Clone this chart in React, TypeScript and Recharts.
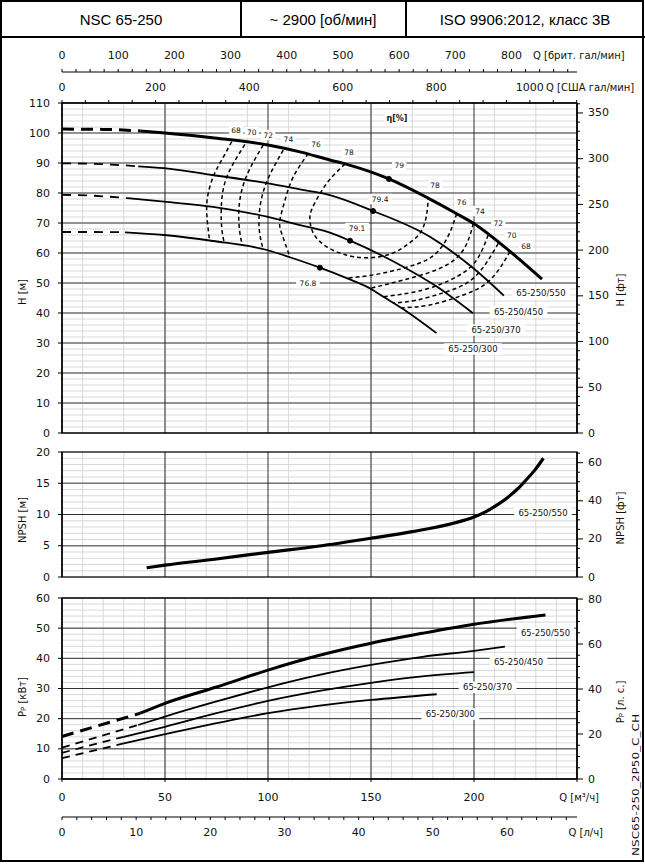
import React from 'react'
import { ComposedChart, Line, XAxis, YAxis, CartesianGrid, ReferenceDot } from 'recharts'

type P = [number, number]

// Q [м³/ч] -> H [м]
const h550Dash: P[] = [[0, 101.3], [20, 101.2], [38, 100.7]]
const h550: P[] = [[38, 100.7], [50, 100], [73, 98.4], [100, 96], [115.5, 93.7], [130, 91], [137.4, 89.7], [158.7, 84.7], [177.7, 78.3], [191.6, 73.1], [199.7, 69.9], [217.5, 60.5], [233, 51.3]]
const h450Dash: P[] = [[0, 89.9], [20, 89.6], [37, 88.9]]
const h450: P[] = [[37, 88.9], [49.5, 88.3], [73, 86], [99.5, 83.3], [115.5, 81.2], [130, 79.3], [151, 74], [178.6, 65.4], [199.7, 54.9], [214.5, 45.8]]
const h370Dash: P[] = [[0, 79.4], [15, 79.1], [31.5, 78.3]]
const h370: P[] = [[31.5, 78.3], [49.5, 77.1], [73.3, 75.4], [99.5, 72.1], [115.5, 69.3], [130, 66.8], [139.8, 64.1], [162.5, 56.6], [181.9, 48.8], [199.5, 39.9]]
const h300Dash: P[] = [[0, 67], [15, 67], [30.6, 66.9]]
const h300: P[] = [[30.6, 66.9], [49.5, 66], [73.3, 64], [99.5, 61], [111, 58.5], [125.2, 55.1], [138.2, 51.6], [149.5, 48.2], [156, 45.4], [165, 41.6], [181.8, 33.3]]

// iso-efficiency lines
const eff68L: P[] = [[82.4, 97.1], [77.5, 91], [73.4, 85.4], [70.5, 78], [70.5, 71], [71.5, 64.9]]
const eff70L: P[] = [[88.8, 96.2], [82.5, 89], [78.5, 82], [77.3, 74.5], [77.6, 68], [78.8, 63.2]]
const eff72L: P[] = [[97.7, 96], [91.5, 88.5], [87.3, 81], [85.8, 73.5], [86.3, 67], [87.5, 62.7]]
const eff74L: P[] = [[107.4, 94.3], [100.5, 85.5], [96.8, 78], [95.6, 71], [96.2, 65.5], [97.6, 61.4]]
const eff76L: P[] = [[119.6, 93.2], [112.3, 85.4], [108.3, 77.7], [105.8, 71], [106.6, 66.6], [110.7, 58.6]]
const eff78: P[] = [[137.4, 89.7], [130, 84.5], [125.2, 79.7], [121.2, 74.5], [120.4, 70.4], [122.5, 66], [128, 62.3], [136.5, 59.6], [148, 58.4], [160, 59.8], [168, 63], [173.8, 66.6], [176.8, 72], [177.8, 78.2]]
const eff76R: P[] = [[191.6, 73.1], [187, 65], [179, 58.5], [166, 55], [152, 52.8], [138.2, 51.6]]
const eff74R: P[] = [[199.7, 69.9], [194.8, 61], [183.5, 54.9], [165.7, 51], [149.5, 48.2]]
const eff72R: P[] = [[206.9, 66], [201.3, 57.7], [191.6, 52.1], [175.4, 47.7], [156, 45.4]]
const eff70R: P[] = [[211.8, 63.2], [200.5, 52.1], [186.7, 47.1], [172.2, 44.3], [160.8, 43.3]]
const eff68R: P[] = [[217.5, 60.5], [207.8, 51], [194.8, 46], [178.6, 42.7], [164.9, 41.7]]
const effContours = [eff68L, eff70L, eff72L, eff74L, eff76L, eff78, eff76R, eff74R, eff72R, eff70R, eff68R]

const bepPoints: P[] = [[158.7, 84.7], [151, 74], [139.8, 64.1], [125.2, 55.1]]
const effTexts = ['68', '70', '72', '74', '76', '78', '79', '78', '76', '74', '72', '70', '68', '79.4', '79.1', '76.8']
const effAnchors: P[] = [[84.5, 101], [92.1, 100.2], [100.1, 99.3], [109.9, 97.9], [123.3, 96.3], [139.3, 93.6], [163.7, 89.3], [181.1, 82.4], [194, 76.9], [202.9, 74], [211.8, 69.9], [218.3, 66], [225.2, 62.3], [154.4, 78], [143.2, 68.3], [119.4, 50]]

const models = ['65-250/550', '65-250/450', '65-250/370', '65-250/300']
const hNameAnchors: P[] = [[232.5, 46.6], [221.6, 40.4], [210.7, 34.3], [199.5, 28]]

// NPSH [м]
const npsh550: P[] = [[41.1, 1.48], [50, 1.9], [75, 2.88], [100, 3.95], [125, 4.96], [150, 6.2], [170, 7.25], [190, 8.6], [200, 9.6], [206, 10.5], [212, 11.7], [217, 12.9], [221.5, 14.2], [225.5, 15.6], [229.5, 17.1], [233.7, 19]]
const npshNameAnchor: P = [233.5, 10.2]

// Pp [кВт]
const p550Dash: P[] = [[0, 14.1], [38, 21.8]]
const p550: P[] = [[38, 21.8], [50, 25.1], [75, 30.5], [100, 36.1], [125, 41], [150, 45], [175, 48.3], [200, 51.3], [234.7, 54.4]]
const p450Dash: P[] = [[0, 10.4], [37, 17.9]]
const p450: P[] = [[37, 17.9], [50, 20.7], [75, 25.7], [100, 30.4], [125, 34.5], [150, 37.8], [175, 40.5], [200, 42.5], [215, 43.9]]
const p370Dash: P[] = [[0, 8.7], [30, 14]]
const p370: P[] = [[30, 14], [50, 17.3], [75, 21.8], [100, 25.9], [125, 29.2], [150, 31.9], [175, 34], [200, 35.4]]
const p300Dash: P[] = [[0, 6.9], [30, 11.8]]
const p300: P[] = [[30, 11.8], [50, 14.9], [75, 18.5], [100, 21.8], [125, 24.3], [150, 26.2], [181.9, 28.1]]
const pNameAnchors: P[] = [[234.7, 48.5], [221.6, 38.9], [206.6, 30.4], [188.5, 21.5]]

// axis ticks
const qTicks = [0, 50, 100, 150, 200, 250]
const hTicks = [0, 10, 20, 30, 40, 50, 60, 70, 80, 90, 100, 110]
const npshTicks = [0, 5, 10, 15, 20]
const pTicks = [0, 10, 20, 30, 40, 50, 60]

const QMAX = 250
const UK = 3.666
const US = 4.403
const FT = 3.2808
const HP = 1.341
const LS = 1 / 3.6

const range = (a: number, b: number, s: number) => {
  const r: number[] = []
  for (let v = a; v <= b + 1e-9; v += s) r.push(Math.round(v * 1000) / 1000)
  return r
}

const toRows = (a: P[]) => a.map(([q, v]) => ({ q, v }))

const FONT = 'DejaVu Sans, sans-serif'

type Side = 'left' | 'right' | 'top' | 'bottom'
const makeTick = (side: Side, isMajor: (v: number) => boolean, majorLen: number, minorLen: number, gap: number, showLabel: (v: number) => boolean = () => true) =>
  (props: any) => {
    const { x, y, payload } = props
    const v = payload.value
    const major = isMajor(v)
    const len = major ? majorLen : minorLen
    const lab = major && showLabel(v) ? String(v) : null
    const s = { stroke: '#000', strokeWidth: 1 }
    let ln: React.ReactNode = null
    let tx: React.ReactNode = null
    const tp = { fontSize: 11, fontFamily: FONT, fill: '#111' }
    if (side === 'left') {
      ln = len > 0 ? <line x1={x} y1={y} x2={x - len} y2={y} {...s} /> : null
      tx = lab && <text x={x - gap} y={y} textAnchor="end" dominantBaseline="central" {...tp}>{lab}</text>
    } else if (side === 'right') {
      ln = len > 0 ? <line x1={x} y1={y} x2={x + len} y2={y} {...s} /> : null
      tx = lab && <text x={x + gap} y={y} textAnchor="start" dominantBaseline="central" {...tp}>{lab}</text>
    } else if (side === 'top') {
      ln = len > 0 ? <line x1={x} y1={y} x2={x} y2={y - len} {...s} /> : null
      tx = lab && <text x={x} y={y - gap} textAnchor="middle" dominantBaseline="central" {...tp}>{lab}</text>
    } else {
      ln = len > 0 ? <line x1={x} y1={y} x2={x} y2={y + len} {...s} /> : null
      tx = lab && <text x={x} y={y + gap} textAnchor="middle" dominantBaseline="central" {...tp}>{lab}</text>
    }
    return <g>{ln}{tx}</g>
  }

const Tag = (text: string, size: number, bold = false) => (props: any) => {
  const { cx, cy } = props
  if (cx == null || cy == null) return <g />
  const w = text.length * size * 0.62 + 5
  const hgt = size + 3
  return (
    <g>
      <rect x={cx - w / 2} y={cy - hgt / 2} width={w} height={hgt} fill="#fff" />
      <text x={cx} y={cy} textAnchor="middle" dominantBaseline="central" fontSize={size} fontFamily={FONT} fontWeight={bold ? 'bold' : 'normal'} fill="#111">{text}</text>
    </g>
  )
}

const axisNoTick = { tickLine: false, tickSize: 0, tickMargin: 0, interval: 0 as const }

// invisible series so that an axis gets a scale and its ticks
const anchor = (xId: string, yId: string, x1: number, y1: number) => (
  <Line key={'a-' + xId + yId} xAxisId={xId} yAxisId={yId} data={[{ q: 0, v: 0 }, { q: x1, v: y1 }]} dataKey="v"
    stroke="none" dot={false} activeDot={false} isAnimationActive={false} legendType="none" />
)

const lineStyle = (w: number, dash?: string) => ({
  type: 'monotone' as const,
  dataKey: 'v',
  stroke: '#000',
  strokeWidth: w,
  strokeDasharray: dash,
  dot: false,
  activeDot: false,
  isAnimationActive: false,
  xAxisId: 'q',
})

const frame = (h: number) => (p: any) => (
  <rect x={p.cx} y={p.cy - h} width={515} height={h} fill="none" stroke="#000" strokeWidth={1.2} />
)

const qMinor = range(0, 250, 10)

function HeadChart() {
  const hSeries: [P[], P[], number][] = [
    [h550Dash, h550, 3],
    [h450Dash, h450, 1.8],
    [h370Dash, h370, 1.8],
    [h300Dash, h300, 1.8],
  ]
  return (
    <ComposedChart width={645} height={400} margin={{ top: 0, right: 0, bottom: 7, left: 0 }}>
      <XAxis xAxisId="t1_us" orientation="top" type="number" dataKey="q" domain={[0, QMAX * US]} ticks={range(0, 1100, 50)} height={31}
        axisLine={{ stroke: '#000', strokeWidth: 1.2 }} {...axisNoTick}
        tick={makeTick('top', () => true, 3, 3, 16, (v) => v % 200 === 0)} />
      <XAxis xAxisId="t2_uk" orientation="top" type="number" dataKey="q" domain={[0, QMAX * UK]} ticks={range(0, 900, 25)} height={32}
        axisLine={{ stroke: '#000', strokeWidth: 1 }} {...axisNoTick}
        tick={makeTick('top', () => true, 3, 3, 17, (v) => v % 100 === 0 && v <= 800)} />
      <XAxis xAxisId="q" type="number" dataKey="q" domain={[0, QMAX]} ticks={qTicks} hide allowDataOverflow />
      <YAxis yAxisId="h" type="number" domain={[0, 110]} ticks={hTicks} width={62}
        axisLine={{ stroke: '#000', strokeWidth: 1 }} {...axisNoTick}
        tick={makeTick('left', () => true, 4, 4, 12)} />
      <YAxis yAxisId="ft" orientation="right" type="number" domain={[0, 110 * FT]} ticks={range(0, 360, 10)} width={68}
        axisLine={{ stroke: '#000', strokeWidth: 1.2 }} {...axisNoTick}
        tick={makeTick('right', (v) => v % 50 === 0, 6, 3, 11)} />
      {anchor('t1_us', 'h', 1100, 0)}
      {anchor('t2_uk', 'h', 900, 0)}
      {anchor('q', 'ft', 250, 360)}
      <CartesianGrid xAxisId="q" yAxisId="h" verticalValues={qMinor} horizontalValues={range(0, 110, 2)} stroke="#cfcfcf" strokeWidth={0.8} />
      <CartesianGrid xAxisId="q" yAxisId="h" vertical={false} horizontalValues={hTicks} stroke="#767676" strokeWidth={1.5} />
      <CartesianGrid xAxisId="q" yAxisId="h" horizontal={false} verticalValues={qTicks} stroke="#1a1a1a" strokeWidth={0.9} />
      {effContours.map((c, i) => (
        <Line key={'e' + i} {...lineStyle(1.5, '4 3')} type="natural" yAxisId="h" data={toRows(c)} />
      ))}
      {hSeries.map(([d, s, w], i) => [
        <Line key={'hd' + i} {...lineStyle(w, w > 2 ? '12 7' : '9 7')} yAxisId="h" data={toRows(d)} />,
        <Line key={'hs' + i} {...lineStyle(w)} yAxisId="h" data={toRows(s)} />,
      ])}
      {bepPoints.map(([q, h], i) => (
        <ReferenceDot key={'b' + i} xAxisId="q" yAxisId="h" x={q} y={h} r={2.5} fill="#000" stroke="#000" />
      ))}
      {effAnchors.map(([q, h], i) => (
        <ReferenceDot key={'t' + i} xAxisId="q" yAxisId="h" x={q} y={h} r={0} shape={Tag(effTexts[i], 7.5)} />
      ))}
      {hNameAnchors.map(([q, h], i) => (
        <ReferenceDot key={'n' + i} xAxisId="q" yAxisId="h" x={q} y={h} r={0} shape={Tag(models[i], 8.5)} />
      ))}
      <ReferenceDot xAxisId="q" yAxisId="h" x={162.6} y={104.7} r={0} shape={Tag('η[%]', 8, true)} />
      <ReferenceDot xAxisId="q" yAxisId="h" x={0} y={0} r={0} shape={frame(330)} />
    </ComposedChart>
  )
}

function NpshChart() {
  return (
    <ComposedChart width={645} height={145} margin={{ top: 12, right: 0, bottom: 8, left: 0 }}>
      <XAxis xAxisId="q" type="number" dataKey="q" domain={[0, QMAX]} ticks={qTicks} hide />
      <YAxis yAxisId="n" type="number" domain={[0, 20]} ticks={npshTicks} width={62}
        axisLine={{ stroke: '#000', strokeWidth: 1 }} {...axisNoTick}
        tick={makeTick('left', () => true, 4, 4, 12)} />
      <YAxis yAxisId="nft" orientation="right" type="number" domain={[0, 20 * FT]} ticks={range(0, 65, 5)} width={68}
        axisLine={{ stroke: '#000', strokeWidth: 1.2 }} {...axisNoTick}
        tick={makeTick('right', (v) => v % 20 === 0, 6, 3, 11)} />
      {anchor('q', 'nft', 250, 65)}
      <CartesianGrid xAxisId="q" yAxisId="n" verticalValues={qMinor} horizontalValues={range(0, 20, 1)} stroke="#cfcfcf" strokeWidth={0.8} />
      <CartesianGrid xAxisId="q" yAxisId="n" vertical={false} horizontalValues={[5, 15]} stroke="#767676" strokeWidth={1.5} />
      <CartesianGrid xAxisId="q" yAxisId="n" vertical={false} horizontalValues={[10]} stroke="#1a1a1a" strokeWidth={0.9} />
      <CartesianGrid xAxisId="q" yAxisId="n" horizontal={false} verticalValues={qTicks} stroke="#1a1a1a" strokeWidth={0.9} />
      <Line {...lineStyle(3.2)} yAxisId="n" data={toRows(npsh550)} />
      <ReferenceDot xAxisId="q" yAxisId="n" x={npshNameAnchor[0]} y={npshNameAnchor[1]} r={0} shape={Tag(models[0], 8.5)} />
      <ReferenceDot xAxisId="q" yAxisId="n" x={0} y={0} r={0} shape={frame(125)} />
    </ComposedChart>
  )
}

function PowerChart() {
  const pSeries: [P[], P[], number][] = [
    [p550Dash, p550, 3],
    [p450Dash, p450, 1.8],
    [p370Dash, p370, 1.8],
    [p300Dash, p300, 1.8],
  ]
  return (
    <ComposedChart width={645} height={262} margin={{ top: 13, right: 0, bottom: 0, left: 0 }}>
      <XAxis xAxisId="q" type="number" dataKey="q" domain={[0, QMAX]} ticks={qTicks} height={38}
        axisLine={{ stroke: '#000', strokeWidth: 1.2 }} {...axisNoTick}
        tick={makeTick('bottom', () => true, 3, 3, 18, (v) => v < 250)} />
      <XAxis xAxisId="r_ls" type="number" dataKey="q" domain={[0, QMAX * LS]} ticks={range(0, 68, 2)} height={30}
        axisLine={{ stroke: '#000', strokeWidth: 1 }} {...axisNoTick}
        tick={makeTick('bottom', () => true, 3, 3, 15, (v) => v % 10 === 0)} />
      <YAxis yAxisId="p" type="number" domain={[0, 60]} ticks={pTicks} width={62}
        axisLine={{ stroke: '#000', strokeWidth: 1 }} {...axisNoTick}
        tick={makeTick('left', () => true, 4, 4, 12)} />
      <YAxis yAxisId="hp" orientation="right" type="number" domain={[0, 60 * HP]} ticks={range(0, 80, 5)} width={68}
        axisLine={{ stroke: '#000', strokeWidth: 1.2 }} {...axisNoTick}
        tick={makeTick('right', (v) => v % 20 === 0, 6, 3, 11)} />
      {anchor('r_ls', 'p', 68, 0)}
      {anchor('q', 'hp', 250, 80)}
      <CartesianGrid xAxisId="q" yAxisId="p" verticalValues={qMinor} horizontalValues={range(0, 60, 2)} stroke="#cfcfcf" strokeWidth={0.8} />
      <CartesianGrid xAxisId="q" yAxisId="p" vertical={false} horizontalValues={pTicks} stroke="#333" strokeWidth={1} />
      <CartesianGrid xAxisId="q" yAxisId="p" horizontal={false} verticalValues={qTicks} stroke="#1a1a1a" strokeWidth={0.9} />
      {pSeries.map(([d, s, w], i) => [
        <Line key={'pd' + i} {...lineStyle(w, w > 2 ? '12 7' : '8 6')} yAxisId="p" data={toRows(d)} />,
        <Line key={'ps' + i} {...lineStyle(w)} yAxisId="p" data={toRows(s)} />,
      ])}
      {pNameAnchors.map(([q, v], i) => (
        <ReferenceDot key={'pn' + i} xAxisId="q" yAxisId="p" x={q} y={v} r={0} shape={Tag(models[i], 8.5)} />
      ))}
      <ReferenceDot xAxisId="q" yAxisId="p" x={0} y={0} r={0} shape={frame(181)} />
    </ComposedChart>
  )
}

function Overlay() {
  const t = { fontFamily: FONT, fontSize: 10, fill: '#111' }
  const vt = (x: number, y: number, children: React.ReactNode) => (
    <text x={x} y={y} transform={`rotate(-90 ${x} ${y})`} textAnchor="middle" dominantBaseline="central" {...t}>{children}</text>
  )
  const hdr = { fontFamily: 'Liberation Sans, Arial, sans-serif', fontSize: 15, fill: '#000', textAnchor: 'middle' as const, dominantBaseline: 'central' as const }
  return (
    <svg width={645} height={864} style={{ position: 'absolute', left: 0, top: 0, pointerEvents: 'none' }}>
      <rect x={1} y={1} width={642} height={860} fill="none" stroke="#000" strokeWidth={2} />
      <line x1={0} y1={37} x2={645} y2={37} stroke="#000" strokeWidth={2} />
      <line x1={241} y1={0} x2={241} y2={37} stroke="#000" strokeWidth={2} />
      <line x1={406} y1={0} x2={406} y2={37} stroke="#000" strokeWidth={2} />
      <text x={121} y={19} {...hdr}>NSC 65-250</text>
      <text x={323} y={19} {...hdr}>~ 2900 [об/мин]</text>
      <text x={525} y={19} {...hdr}>ISO 9906:2012, класс 3B</text>
      <text x={533} y={55} dominantBaseline="central" {...t}>Q [брит. гал/мин]</text>
      <text x={546} y={87} dominantBaseline="central" {...t}>Q [США гал/мин]</text>
      <text x={599} y={797} textAnchor="end" dominantBaseline="central" {...t}>Q [м³/ч]</text>
      <text x={603} y={832} textAnchor="end" dominantBaseline="central" {...t}>Q [л/ч]</text>
      {vt(22, 292, 'H [м]')}
      {vt(620, 290, 'H [фт]')}
      {vt(22, 520, 'NPSH [м]')}
      {vt(620, 518, 'NPSH [фт]')}
      {vt(22, 697, <>P<tspan fontSize={7} dy={2}>P</tspan><tspan dy={-2}> [кВт]</tspan></>)}
      {vt(620, 702, <>P<tspan fontSize={7} dy={2}>P</tspan><tspan dy={-2}> [л. с.]</tspan></>)}
      <text x={639} y={856} transform="rotate(-90 639 856)" fontFamily={FONT} fontSize={9.5} textLength={142} lengthAdjust="spacingAndGlyphs" fill="#111">NSC65-250_2P50_C_CH</text>
    </svg>
  )
}

export default function App() {
  return (
    <div style={{ position: 'absolute', left: 0, top: 0, width: 645, height: 864, background: '#fff' }}>
      <div style={{ position: 'absolute', left: 0, top: 40 }}><HeadChart /></div>
      <div style={{ position: 'absolute', left: 0, top: 440 }}><NpshChart /></div>
      <div style={{ position: 'absolute', left: 0, top: 585 }}><PowerChart /></div>
      <Overlay />
    </div>
  )
}
